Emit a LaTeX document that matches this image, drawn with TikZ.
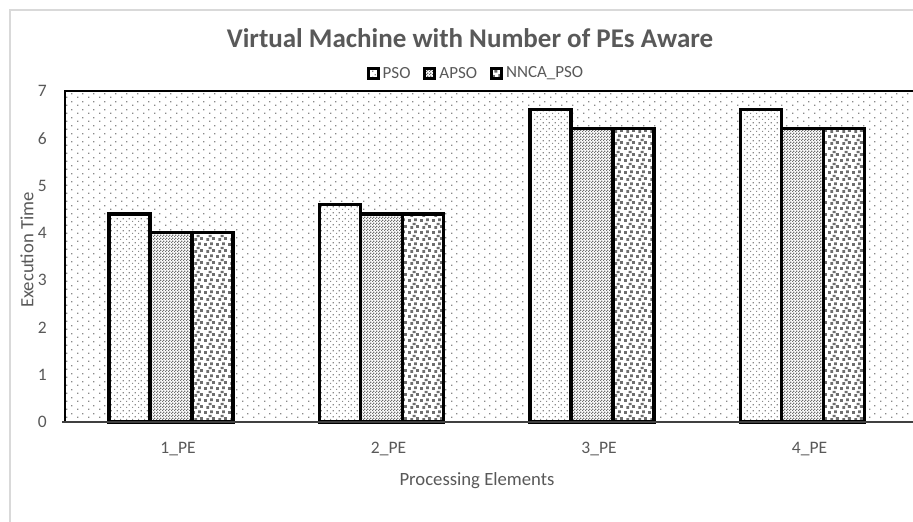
\documentclass[tikz,border=0pt]{standalone}
\usepackage{fontspec}
\setmainfont{Carlito}
\usetikzlibrary{patterns.meta}

\definecolor{txt}{HTML}{595959}
\definecolor{frame}{HTML}{D9D9D9}
\definecolor{dotgray}{HTML}{8A8A8A}
\definecolor{darkdot}{HTML}{6E6E6E}

% plot background: sparse staggered dots
\tikzdeclarepattern{name=bgdots, type=uncolored,
  bounding box={(0pt,0pt) and (11pt,8pt)}, tile size={(11pt,8pt)},
  code={\fill (0pt,0pt) rectangle (1.5pt,1.5pt);
        \fill (5.5pt,4pt) rectangle (7pt,5.5pt);}}
% PSO bars: finer dots
\tikzdeclarepattern{name=psodots, type=uncolored,
  bounding box={(0pt,0pt) and (6pt,6pt)}, tile size={(6pt,6pt)},
  code={\fill (0pt,0pt) rectangle (1.4pt,1.4pt);
        \fill (3pt,3pt) rectangle (4.4pt,4.4pt);}}
% APSO bars: fine checker
\tikzdeclarepattern{name=apsocheck, type=uncolored,
  bounding box={(0pt,0pt) and (3pt,3pt)}, tile size={(3pt,3pt)},
  code={\fill (0pt,0pt) rectangle (1.5pt,1.5pt);
        \fill (1.5pt,1.5pt) rectangle (3pt,3pt);}}
% NNCA_PSO bars: coarse confetti
\tikzdeclarepattern{name=nncaconf, type=uncolored,
  bounding box={(0pt,0pt) and (12pt,12pt)}, tile size={(12pt,12pt)},
  code={\fill (0pt,0pt) rectangle (3pt,3pt);
        \fill (6.5pt,1pt) rectangle (9.5pt,4pt);
        \fill (2.5pt,5.5pt) rectangle (5.5pt,8.5pt);
        \fill (8.5pt,6.5pt) rectangle (11.5pt,9.5pt);
        \fill (5pt,9.5pt) rectangle (8pt,12pt);}}

\tikzset{
  lbl/.style={text=txt, font=\fontsize{17.5}{21}\selectfont, inner sep=0pt},
  legtext/.style={text=txt, font=\fontsize{17}{20}\selectfont, inner sep=0pt},
  axtitle/.style={text=txt, font=\fontsize{18.7}{22}\selectfont, inner sep=0pt},
  bar/.style={draw=black, line width=3.2pt, preaction={fill=white}},
  pso/.style={bar, pattern=psodots, pattern color=dotgray},
  apso/.style={bar, pattern=apsocheck, pattern color=darkdot},
  nnca/.style={bar, pattern=nncaconf, pattern color=darkdot},
  legbox/.style={draw=black, line width=3pt, preaction={fill=white},
    minimum size=10pt, inner sep=0pt},
}

\begin{document}
\begin{tikzpicture}[x=1pt,y=-1pt]
\useasboundingbox (0,0) rectangle (913,522);
\fill[white] (0,0) rectangle (913,522);

% chart frame
\draw[frame, line width=2pt] (10,530) -- (10,10) -- (920,10);

% title
\node[text=txt, font=\bfseries\fontsize{27}{31}\selectfont, inner sep=0pt]
  (title) at (470,38) {Virtual Machine with Number of PEs Aware};

% plot area
\path[pattern=bgdots, pattern color=dotgray] (65,91) rectangle (915,422);
\draw[black, line width=1.6pt] (65,422) -- (65,91) -- (915,91);

% bars
\foreach \g/\a/\b/\c/\t in {0/4.4/4.0/4.0/1, 1/4.6/4.4/4.4/2, 2/6.6/6.2/6.2/3, 3/6.6/6.2/6.2/4} {
  \pgfmathsetmacro\cx{171+210.5*\g}
  \path[pso]  (\cx-62,422) rectangle (\cx-21,{422-47.29*\a});
  \path[apso] (\cx-21,422) rectangle (\cx+21,{422-47.29*\b});
  \path[nnca] (\cx+21,422) rectangle (\cx+62,{422-47.29*\c});
  \node[lbl] (cat\t) at (\cx+7,449) {\t\_PE};
}

% category axis
\draw[black!75, line width=1.6pt] (62,422) -- (915,422);

% value axis labels
\foreach \k in {0,...,7}
  \node[lbl, anchor=east] (ytick\k) at (47,{422-47.29*\k}) {\k};

% axis titles
\node[axtitle, rotate=90] (ytitle) at (27,250) {Execution Time};
\node[axtitle] (xtitle) at (477,481) {Processing Elements};

% legend
\node[legbox, pattern=psodots, pattern color=dotgray] (kpso) at (373,73) {};
\node[legtext, anchor=west] (tpso) at ([xshift=3pt]kpso.east) {PSO};
\node[legbox, pattern=apsocheck, pattern color=darkdot] (kapso) at ([xshift=19pt]tpso.east) {};
\node[legtext, anchor=west] (tapso) at ([xshift=3pt]kapso.east) {APSO};
\node[legbox, pattern=nncaconf, pattern color=darkdot] (knnca) at ([xshift=19pt]tapso.east) {};
\node[legtext, anchor=west] (tnnca) at ([xshift=3pt]knnca.east) {NNCA\_PSO};
\end{tikzpicture}
\end{document}
